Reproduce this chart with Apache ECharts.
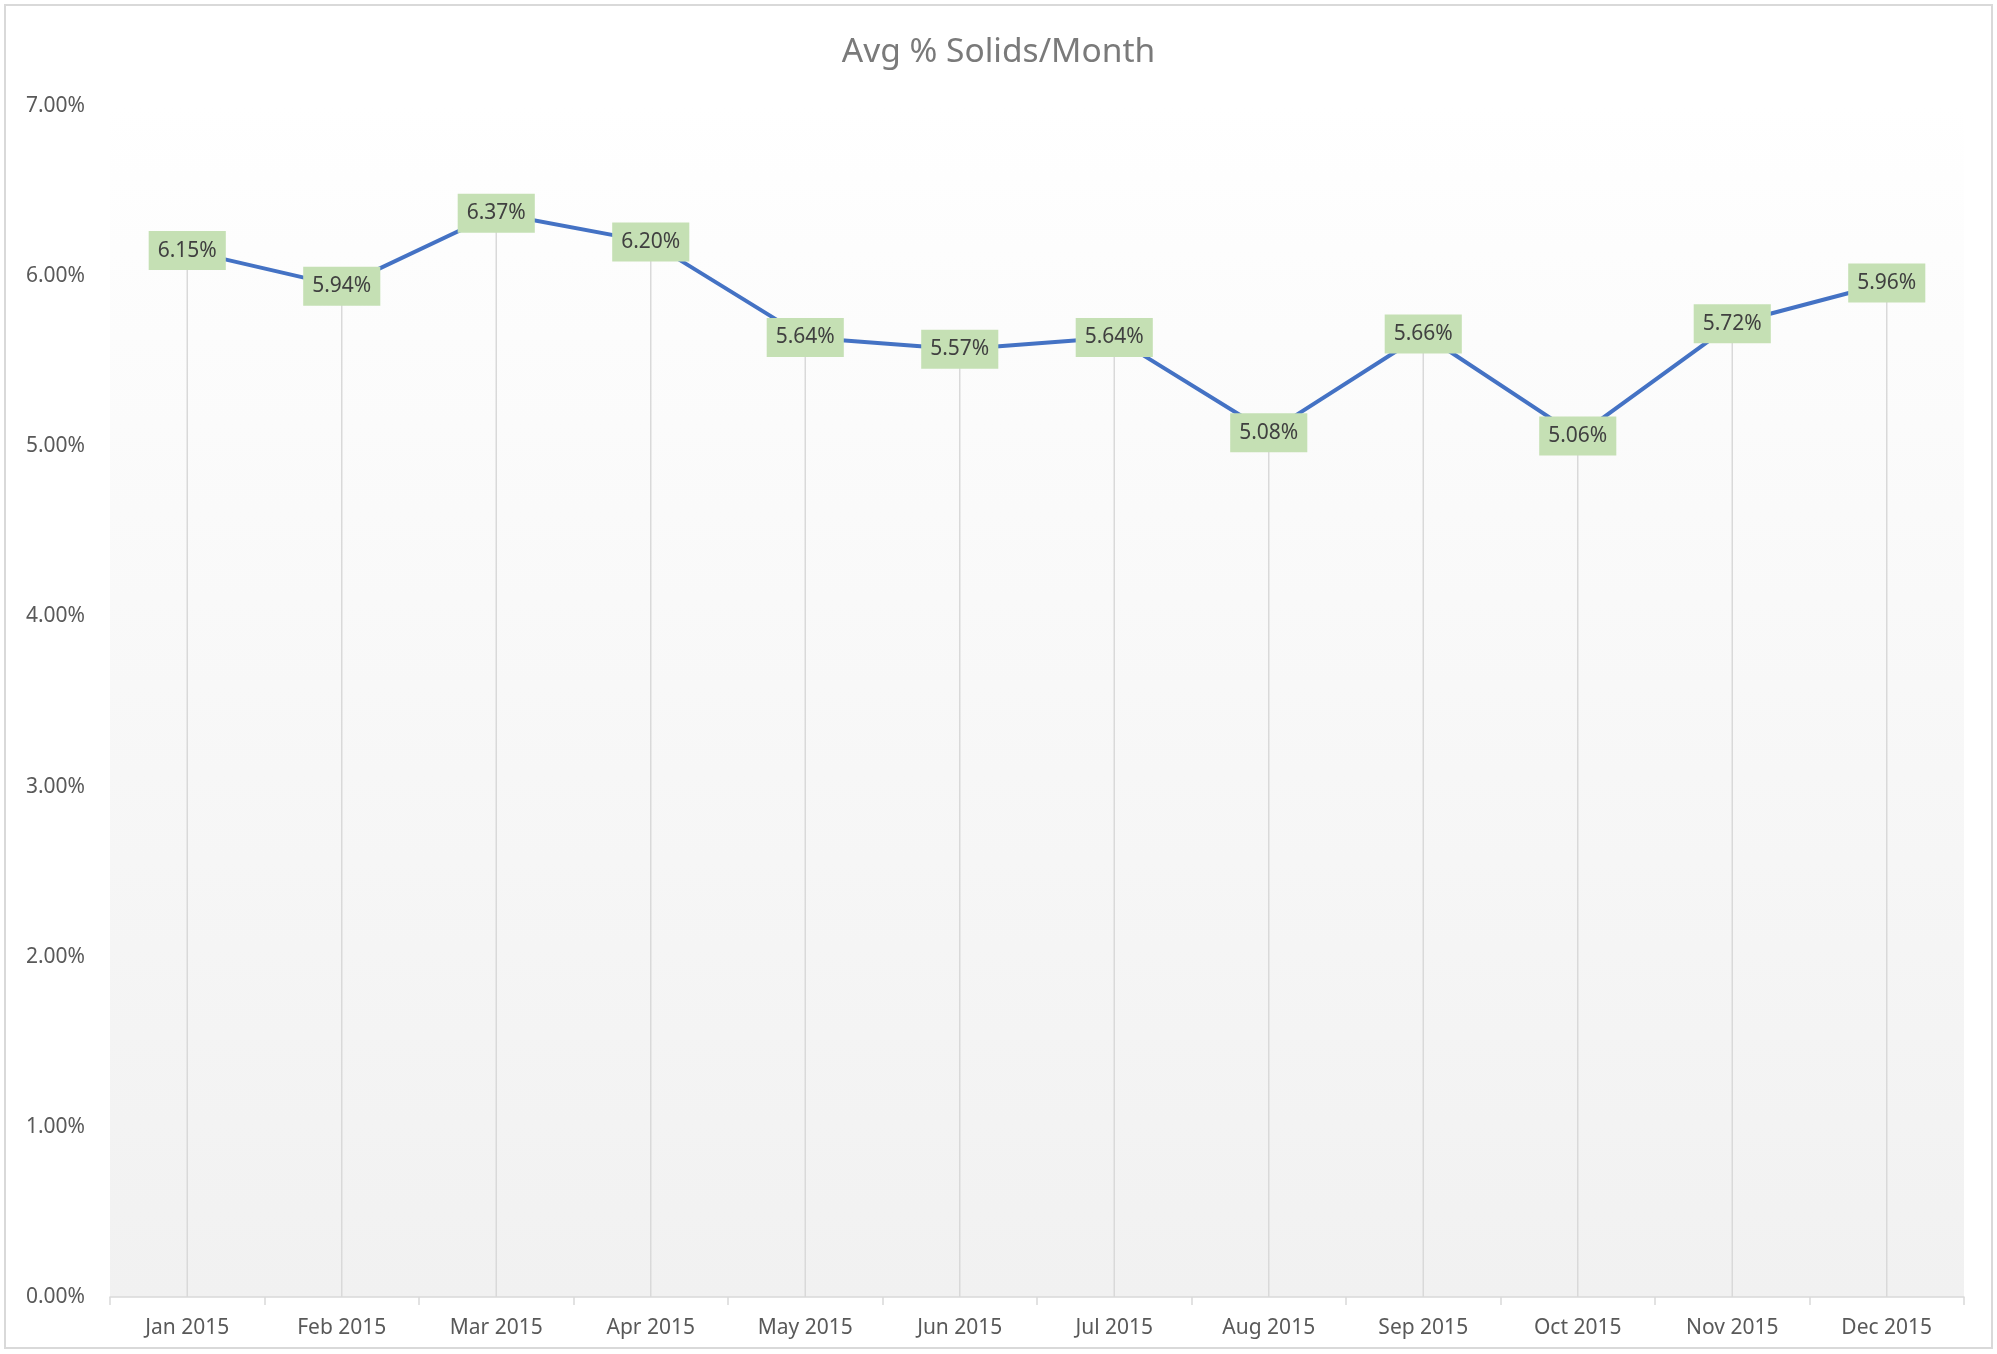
<!DOCTYPE html>
<html>
<head>
<meta charset="utf-8">
<script src="https://cdn.jsdelivr.net/npm/echarts@6/dist/echarts.min.js"></script>
<style>
html,body{margin:0;padding:0;background:#fff;}
#chart{width:1997px;height:1354px;}
</style>
</head>
<body>
<div id="chart"></div>
<script>
const titleText = 'Avg % Solids/Month';
const categories = ['Jan 2015','Feb 2015','Mar 2015','Apr 2015','May 2015','Jun 2015','Jul 2015','Aug 2015','Sep 2015','Oct 2015','Nov 2015','Dec 2015'];
const solidsPct = [6.15, 5.94, 6.37, 6.20, 5.64, 5.57, 5.64, 5.08, 5.66, 5.06, 5.72, 5.96];
const yMin = 0, yMax = 7, yStep = 1;

const FONT = '"Noto Sans", "Open Sans", sans-serif';
const chart = echarts.init(document.getElementById('chart'), null, {renderer: 'canvas'});
chart.setOption({
  backgroundColor: '#ffffff',
  animation: false,
  title: {
    text: titleText,
    left: 'center',
    top: 30,
    textStyle: {fontFamily: FONT, fontSize: 33.5, fontWeight: 'normal', color: '#7a7a7a'}
  },
  graphic: [{
    type: 'rect', silent: true, z: 100,
    shape: {x: 5, y: 5, width: 1987, height: 1343},
    style: {fill: 'none', stroke: '#d9d9d9', lineWidth: 2}
  }],
  grid: {
    left: 110, right: 33, top: 106, bottom: 57,
    show: true, borderWidth: 0,
    backgroundColor: {
      type: 'linear', x: 0, y: 0, x2: 0, y2: 1,
      colorStops: [
        {offset: 0, color: '#ffffff'},
        {offset: 0.12, color: '#fdfdfd'},
        {offset: 1, color: '#f1f1f1'}
      ]
    }
  },
  xAxis: {
    type: 'category',
    data: categories,
    boundaryGap: true,
    axisLine: {show: true, lineStyle: {color: '#d9d9d9', width: 1.5}},
    axisTick: {show: true, alignWithLabel: false, length: 8, lineStyle: {color: '#d9d9d9', width: 1.5}},
    axisLabel: {fontFamily: FONT, fontSize: 21, color: '#595959', margin: 21},
    splitLine: {show: false}
  },
  yAxis: {
    type: 'value',
    min: yMin, max: yMax, interval: yStep,
    axisLine: {show: false},
    axisTick: {show: false},
    splitLine: {show: false},
    axisLabel: {
      fontFamily: FONT, fontSize: 21, color: '#595959', margin: 25,
      formatter: v => v.toFixed(2) + '%'
    }
  },
  series: [
    {
      type: 'bar',
      data: solidsPct,
      barWidth: 1.5,
      itemStyle: {color: '#d9d9d9'},
      silent: true,
      z: 1
    },
    {
      type: 'line',
      data: solidsPct,
      symbol: 'circle',
      symbolSize: 1,
      showSymbol: true,
      lineStyle: {color: '#4472C4', width: 4},
      itemStyle: {color: '#4472C4'},
      z: 3,
      label: {
        show: true,
        position: 'inside',
        formatter: p => p.value.toFixed(2) + '%',
        fontFamily: FONT,
        fontSize: 21,
        color: '#404040',
        backgroundColor: '#C5E0B4',
        padding: [10, 9, 8, 9]
      }
    }
  ]
});
</script>
</body>
</html>
